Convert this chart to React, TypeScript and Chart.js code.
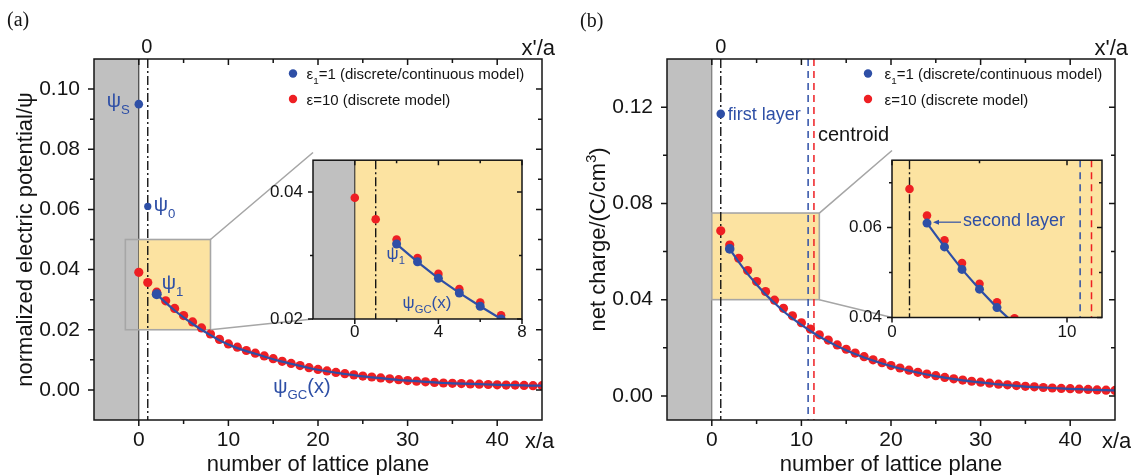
import React, { useEffect, useRef } from 'react';
import { Chart, registerables } from 'chart.js';

Chart.register(...registerables);

const FONT = '"Liberation Sans", Arial, Helvetica, sans-serif';
const SERIF = '"Liberation Serif", "Times New Roman", serif';
const BLUE = '#2E4FA6';
const RED = '#EE1F23';
const INK = '#141414';
const BAND = '#C0C0C0';
const ZOOM_FILL = '#FCE3A1';
const LINK = '#A6A6A6';

// ---------------- panel (a): normalized electric potential ----------------
const A_PLANES = [0, 1, 2, 3, 4, 5, 6, 7, 8, 9, 10, 11, 12, 13, 14, 15, 16, 17, 18, 19, 20, 21, 22, 23, 24, 25, 26, 27, 28, 29, 30, 31, 32, 33, 34, 35, 36, 37, 38, 39, 40, 41, 42, 43, 44, 45];
const A_RED = [0.0391, 0.0357, 0.0325, 0.0296, 0.0271, 0.0247, 0.0226, 0.0206, 0.0186, 0.0168, 0.0153, 0.0142, 0.0131, 0.0122, 0.0113, 0.0104, 0.0095, 0.0088, 0.0081, 0.0074, 0.0068, 0.0063, 0.0058, 0.0054, 0.0050, 0.0046, 0.0043, 0.0040, 0.0037, 0.0034, 0.0031, 0.0029, 0.0027, 0.0025, 0.0023, 0.0022, 0.0021, 0.0020, 0.0019, 0.0018, 0.0017, 0.0016, 0.0016, 0.0015, 0.0014, 0.0014];
const A_GC_PLANES = [2, 3, 4, 5, 6, 7, 8, 9, 10, 11, 12, 13, 14, 15, 16, 17, 18, 19, 20, 21, 22, 23, 24, 25, 26, 27, 28, 29, 30, 31, 32, 33, 34, 35, 36, 37, 38, 39, 40, 41, 42, 43, 44, 45];
const A_GC = [0.0318, 0.0290, 0.0264, 0.0241, 0.0220, 0.0200, 0.0182, 0.0165, 0.0151, 0.0139, 0.0129, 0.0120, 0.0111, 0.0102, 0.0094, 0.0087, 0.0080, 0.0073, 0.0067, 0.0062, 0.0057, 0.0053, 0.0049, 0.0045, 0.0042, 0.0039, 0.0036, 0.0033, 0.0031, 0.0029, 0.0027, 0.0025, 0.0023, 0.0022, 0.0021, 0.0020, 0.0019, 0.0018, 0.0017, 0.0016, 0.0016, 0.0015, 0.0014, 0.0014];
const A_MARK_PLANES = [0, 1, 2];
const A_MARKS = [0.095, 0.061, 0.0318];
const A_X_RANGE = [-5, 45];
const A_Y_RANGE = [-0.01, 0.11];
const A_X_LABELS = [0, 10, 20, 30, 40];
const A_X_MINOR = [5, 15, 25, 35];
const A_Y_LABELS = [0, 0.02, 0.04, 0.06, 0.08, 0.1];
const A_Y_MINOR = [0.01, 0.03, 0.05, 0.07, 0.09];
const A_ZOOM_X = [-1.5, 8];
const A_ZOOM_Y = [0.02, 0.05];
const A_IN_X_RANGE = [-2, 8];
const A_IN_Y_RANGE = [0.02, 0.045];
const A_IN_X_LABELS = [0, 4, 8];
const A_IN_X_MINOR = [2, 6];
const A_IN_Y_LABELS = [0.02, 0.04];
const A_IN_Y_MINOR = [0.03];

// ---------------- panel (b): net charge ----------------
const B_PLANES = [1, 2, 3, 4, 5, 6, 7, 8, 9, 10, 11, 12, 13, 14, 15, 16, 17, 18, 19, 20, 21, 22, 23, 24, 25, 26, 27, 28, 29, 30, 31, 32, 33, 34, 35, 36, 37, 38, 39, 40, 41, 42, 43, 44, 45];
const B_RED = [0.0686, 0.0627, 0.0572, 0.0521, 0.0475, 0.0434, 0.0398, 0.0364, 0.0333, 0.0304, 0.0278, 0.0254, 0.0232, 0.0212, 0.0194, 0.0178, 0.0163, 0.0150, 0.0138, 0.0126, 0.0116, 0.0107, 0.0098, 0.0091, 0.0084, 0.0077, 0.0071, 0.0066, 0.0061, 0.0057, 0.0053, 0.0049, 0.0046, 0.0043, 0.0040, 0.0038, 0.0035, 0.0033, 0.0031, 0.0030, 0.0028, 0.0027, 0.0025, 0.0024, 0.0023];
const B_GC_PLANES = [2, 3, 4, 5, 6, 7, 8, 9, 10, 11, 12, 13, 14, 15, 16, 17, 18, 19, 20, 21, 22, 23, 24, 25, 26, 27, 28, 29, 30, 31, 32, 33, 34, 35, 36, 37, 38, 39, 40, 41, 42, 43, 44, 45];
const B_GC = [0.0610, 0.0557, 0.0507, 0.0463, 0.0422, 0.0386, 0.0352, 0.0322, 0.0295, 0.0270, 0.0247, 0.0226, 0.0207, 0.0190, 0.0174, 0.0160, 0.0147, 0.0135, 0.0124, 0.0114, 0.0105, 0.0097, 0.0089, 0.0082, 0.0076, 0.0070, 0.0065, 0.0060, 0.0056, 0.0052, 0.0048, 0.0045, 0.0042, 0.0039, 0.0037, 0.0035, 0.0033, 0.0031, 0.0029, 0.0028, 0.0026, 0.0025, 0.0024, 0.0023];
const B_MARK_PLANES = [1, 2];
const B_MARKS = [0.1172, 0.0611];
const B_CENTROIDS = [10.75, 11.4]; // blue (ε1=1), red (ε=10)
const B_X_RANGE = [-5, 45];
const B_Y_RANGE = [-0.01, 0.14];
const B_X_LABELS = [0, 10, 20, 30, 40];
const B_X_MINOR = [5, 15, 25, 35];
const B_Y_LABELS = [0, 0.04, 0.08, 0.12];
const B_Y_MINOR = [0.02, 0.06, 0.1];
const B_ZOOM_X = [0, 12];
const B_ZOOM_Y = [0.04, 0.076];
const B_IN_X_RANGE = [0, 12];
const B_IN_Y_RANGE = [0.04, 0.075];
const B_IN_X_LABELS = [0, 10];
const B_IN_X_MINOR = [5];
const B_IN_Y_LABELS = [0.04, 0.06];
const B_IN_Y_MINOR = [0.05, 0.07];

const WALL = 0;
const FIRST_PLANE = 1;

// ---------------- layout (page pixels) ----------------
type Box = { left: number; top: number; width: number; height: number };
type Area = { l: number; t: number; r: number; b: number };
const A_CANVAS: Box = { left: 0, top: 0, width: 565, height: 475 };
const A_AREA: Area = { l: 94, t: 59, r: 542, b: 420 };
const A_IN_CANVAS: Box = { left: 255, top: 140, width: 275, height: 210 };
const A_IN_AREA: Area = { l: 313, t: 152.5, r: 522, b: 319 };
const B_CANVAS: Box = { left: 565, top: 0, width: 566, height: 475 };
const B_AREA: Area = { l: 667, t: 59, r: 1115, b: 420 };
const B_IN_CANVAS: Box = { left: 835, top: 140, width: 272, height: 210 };
const B_IN_AREA: Area = { l: 892, t: 150.5, r: 1102, b: 317.5 };

const pts = (xs: number[], ys: number[]) => xs.map((x, i) => ({ x, y: ys[i] }));

function linAxis(range: number[], labelled: number[], fmt: (v: number) => string, size: number, pad: number, fit: number, horizontal: boolean) {
  return {
    type: 'linear',
    min: range[0],
    max: range[1],
    grid: { display: false, drawTicks: false },
    border: { display: false },
    afterBuildTicks: (s: any) => {
      s.ticks = labelled.map((v) => ({ value: v }));
    },
    afterFit: (s: any) => {
      if (horizontal) s.height = fit;
      else s.width = fit;
    },
    ticks: {
      callback: (v: any) => fmt(Number(v)),
      font: { family: FONT, size },
      color: INK,
      padding: pad,
      maxRotation: 0,
      minRotation: 0,
      autoSkip: false,
    },
  };
}

function layoutFor(cv: Box, ar: Area) {
  return {
    padding: { left: 0, top: ar.t - cv.top, right: cv.left + cv.width - ar.r, bottom: 0 },
    yWidth: ar.l - cv.left,
    xHeight: cv.top + cv.height - ar.b,
  };
}

function txt(ctx: CanvasRenderingContext2D, s: string, x: number, y: number, size: number, color = INK, align: CanvasTextAlign = 'left', family = FONT) {
  ctx.font = `${size}px ${family}`;
  ctx.fillStyle = color;
  ctx.textAlign = align;
  ctx.textBaseline = 'alphabetic';
  ctx.fillText(s, x, y);
}

type Part = { t: string; sub?: boolean; sup?: boolean };
function richWidth(ctx: CanvasRenderingContext2D, parts: Part[], size: number) {
  let w = 0;
  for (const p of parts) {
    ctx.font = `${p.sub || p.sup ? size * 0.66 : size}px ${FONT}`;
    w += ctx.measureText(p.t).width;
  }
  return w;
}
function rich(ctx: CanvasRenderingContext2D, parts: Part[], x: number, y: number, size: number, color: string) {
  let cx = x;
  ctx.fillStyle = color;
  ctx.textAlign = 'left';
  ctx.textBaseline = 'alphabetic';
  for (const p of parts) {
    const small = p.sub || p.sup;
    ctx.font = `${small ? size * 0.66 : size}px ${FONT}`;
    const dy = p.sub ? size * 0.32 : p.sup ? -size * 0.4 : 0;
    ctx.fillText(p.t, cx, y + dy);
    cx += ctx.measureText(p.t).width;
  }
}
function vtitle(ctx: CanvasRenderingContext2D, parts: Part[], cx: number, cy: number, size: number) {
  ctx.save();
  ctx.translate(cx, cy);
  ctx.rotate(-Math.PI / 2);
  const w = richWidth(ctx, parts, size);
  rich(ctx, parts, -w / 2, size * 0.35, size, INK);
  ctx.restore();
}
function dot(ctx: CanvasRenderingContext2D, x: number, y: number, r: number, c: string) {
  ctx.beginPath();
  ctx.arc(x, y, r, 0, Math.PI * 2);
  ctx.fillStyle = c;
  ctx.fill();
}

function drawFrame(chart: any, xMaj: number[], xMin: number[], yMaj: number[], yMin: number[], maj: number, min: number) {
  const { ctx, chartArea: a, scales } = chart;
  const sx = scales.x;
  const sy = scales.y;
  ctx.save();
  ctx.strokeStyle = INK;
  ctx.lineWidth = 1.5;
  ctx.setLineDash([]);
  ctx.strokeRect(a.left, a.top, a.right - a.left, a.bottom - a.top);
  ctx.beginPath();
  const tx = (v: number, len: number) => {
    const p = sx.getPixelForValue(v);
    ctx.moveTo(p, a.bottom);
    ctx.lineTo(p, a.bottom + len);
    ctx.moveTo(p, a.top);
    ctx.lineTo(p, a.top + len);
  };
  const ty = (v: number, len: number) => {
    const p = sy.getPixelForValue(v);
    ctx.moveTo(a.left, p);
    ctx.lineTo(a.left - len, p);
    ctx.moveTo(a.right, p);
    ctx.lineTo(a.right - len, p);
  };
  xMaj.forEach((v) => tx(v, maj));
  xMin.forEach((v) => tx(v, min));
  yMaj.forEach((v) => ty(v, maj));
  yMin.forEach((v) => ty(v, min));
  ctx.stroke();
  ctx.restore();
}

function vline(chart: any, v: number, color: string, dash: number[], w: number) {
  const { ctx, chartArea: a, scales } = chart;
  const p = scales.x.getPixelForValue(v);
  ctx.save();
  ctx.strokeStyle = color;
  ctx.lineWidth = w;
  ctx.setLineDash(dash);
  ctx.beginPath();
  ctx.moveTo(p, a.top);
  ctx.lineTo(p, a.bottom);
  ctx.stroke();
  ctx.restore();
}

function band(chart: any, wallColor: string) {
  const { ctx, chartArea: a, scales } = chart;
  const p = scales.x.getPixelForValue(WALL);
  ctx.save();
  ctx.fillStyle = BAND;
  ctx.fillRect(a.left, a.top, p - a.left, a.bottom - a.top);
  ctx.strokeStyle = wallColor;
  ctx.lineWidth = 1;
  ctx.beginPath();
  ctx.moveTo(p, a.top);
  ctx.lineTo(p, a.bottom);
  ctx.stroke();
  ctx.restore();
}

function zoomBox(chart: any, xr: number[], yr: number[]) {
  const { ctx, scales } = chart;
  const sx = scales.x;
  const sy = scales.y;
  const x0 = sx.getPixelForValue(xr[0]);
  const xw = sx.getPixelForValue(Math.max(xr[0], WALL));
  const x1 = sx.getPixelForValue(xr[1]);
  const y0 = sy.getPixelForValue(yr[0]);
  const y1 = sy.getPixelForValue(yr[1]);
  ctx.save();
  ctx.fillStyle = ZOOM_FILL;
  ctx.fillRect(xw, y1, x1 - xw, y0 - y1);
  ctx.strokeStyle = LINK;
  ctx.lineWidth = 1.6;
  ctx.strokeRect(x0, y1, x1 - x0, y0 - y1);
  ctx.restore();
}

function connectors(chart: any, xr: number[], yr: number[], inset: Area, cv: Box) {
  const { ctx, scales } = chart;
  const px = scales.x.getPixelForValue(xr[1]);
  ctx.save();
  ctx.strokeStyle = LINK;
  ctx.lineWidth = 1.6;
  ctx.beginPath();
  ctx.moveTo(px, scales.y.getPixelForValue(yr[1]));
  ctx.lineTo(inset.l - cv.left, inset.t - cv.top);
  ctx.moveTo(px, scales.y.getPixelForValue(yr[0]));
  ctx.lineTo(inset.l - cv.left, inset.b - cv.top);
  ctx.stroke();
  ctx.restore();
}

function legend(ctx: CanvasRenderingContext2D, dx: number, y1: number, y2: number, gap: number) {
  dot(ctx, dx, y1, 4.2, BLUE);
  dot(ctx, dx, y2, 4.2, RED);
  rich(ctx, [{ t: 'ε' }, { t: '1', sub: true }, { t: '=1 (discrete/continuous model)' }], dx + gap, y1 + 5.5, 15, INK);
  txt(ctx, 'ε=10 (discrete model)', dx + gap, y2 + 5.5, 15, INK);
}

const DASH_DOT = [9, 3, 2, 3];

function commonOptions(cv: Box, ar: Area, xr: number[], yr: number[], xl: number[], yl: number[], yfmt: (v: number) => string, size: number, xPad: number, yPad: number) {
  const lay = layoutFor(cv, ar);
  return {
    animation: false,
    responsive: false,
    maintainAspectRatio: false,
    events: [],
    layout: { padding: lay.padding },
    plugins: { legend: { display: false }, tooltip: { enabled: false }, title: { display: false } },
    scales: {
      x: linAxis(xr, xl, (v) => String(v), size, xPad, lay.xHeight, true),
      y: linAxis(yr, yl, yfmt, size, yPad, lay.yWidth, false),
    },
  };
}

const fmt2 = (v: number) => v.toFixed(2);

// ---------------- chart configs ----------------
function mainA(): any {
  const cv = A_CANVAS;
  return {
    type: 'scatter',
    data: {
      datasets: [
        { data: pts(A_MARK_PLANES, A_MARKS), backgroundColor: BLUE, pointRadius: [4.3, 3.6, 5], pointBorderWidth: 0, showLine: false },
        { data: pts(A_GC_PLANES, A_GC), borderColor: BLUE, borderWidth: 2.2, pointRadius: 0, showLine: true, cubicInterpolationMode: 'monotone' },
        { data: pts(A_PLANES, A_RED), backgroundColor: RED, pointRadius: 4.6, pointBorderWidth: 0, showLine: false },
      ],
    },
    options: commonOptions(cv, A_AREA, A_X_RANGE, A_Y_RANGE, A_X_LABELS, A_Y_LABELS, fmt2, 21, 8, 14),
    plugins: [
      {
        id: 'decorA',
        beforeDatasetsDraw(chart: any) {
          band(chart, '#222');
          zoomBox(chart, A_ZOOM_X, A_ZOOM_Y);
          vline(chart, FIRST_PLANE, INK, DASH_DOT, 1.4);
        },
        afterDraw(chart: any) {
          const { ctx, chartArea: a, scales } = chart;
          const sx = scales.x;
          const sy = scales.y;
          drawFrame(chart, A_X_LABELS, A_X_MINOR, A_Y_LABELS, A_Y_MINOR, 6, 4);
          connectors(chart, A_ZOOM_X, A_ZOOM_Y, A_IN_AREA, cv);
          txt(ctx, '(a)', 7 - cv.left, 26, 20, INK, 'left', SERIF);
          txt(ctx, '0', sx.getPixelForValue(FIRST_PLANE) - 1, a.top - 6, 20, INK, 'center');
          txt(ctx, "x'/a", a.right + 13, a.top - 4, 22, INK, 'right');
          txt(ctx, 'x/a', a.right - 17, 448, 22, INK, 'left');
          txt(ctx, 'number of lattice plane', (a.left + a.right) / 2, 471, 22, INK, 'center');
          vtitle(ctx, [{ t: 'normalized electric potential/ψ' }], a.left - 70, (a.top + a.bottom) / 2, 22);
          legend(ctx, a.left + 199, 73.5, 99, 13.5);
          const m = (i: number) => ({ x: sx.getPixelForValue(A_MARK_PLANES[i]), y: sy.getPixelForValue(A_MARKS[i]) });
          const s = m(0);
          rich(ctx, [{ t: 'ψ' }, { t: 'S', sub: true }], s.x - 32, s.y + 3, 20, BLUE);
          const z = m(1);
          rich(ctx, [{ t: 'ψ' }, { t: '0', sub: true }], z.x + 6, z.y + 5, 20, BLUE);
          const o = m(2);
          rich(ctx, [{ t: 'ψ' }, { t: '1', sub: true }], o.x + 5, o.y - 5, 20, BLUE);
          rich(ctx, [{ t: 'ψ' }, { t: 'GC', sub: true }, { t: '(x)' }], sx.getPixelForValue(15), sy.getPixelForValue(0) + 3, 20, BLUE);
        },
      },
    ],
  };
}

function insetA(): any {
  const cv = A_IN_CANVAS;
  return {
    type: 'scatter',
    data: {
      datasets: [
        { data: pts(A_GC_PLANES, A_GC), borderColor: BLUE, backgroundColor: BLUE, borderWidth: 2.2, pointRadius: 4.5, pointBorderWidth: 0, showLine: true },
        { data: pts(A_PLANES, A_RED), backgroundColor: RED, pointRadius: 4.3, pointBorderWidth: 0, showLine: false },
      ],
    },
    options: commonOptions(cv, A_IN_AREA, A_IN_X_RANGE, A_IN_Y_RANGE, A_IN_X_LABELS, A_IN_Y_LABELS, fmt2, 17, 3, 10),
    plugins: [
      {
        id: 'decorAIn',
        beforeDatasetsDraw(chart: any) {
          const { ctx, chartArea: a } = chart;
          ctx.save();
          ctx.fillStyle = ZOOM_FILL;
          ctx.fillRect(a.left, a.top, a.right - a.left, a.bottom - a.top);
          ctx.restore();
          band(chart, '#222');
          vline(chart, FIRST_PLANE, INK, DASH_DOT, 1.4);
        },
        afterDraw(chart: any) {
          const { ctx, scales } = chart;
          const sx = scales.x;
          const sy = scales.y;
          drawFrame(chart, A_IN_X_LABELS, A_IN_X_MINOR, A_IN_Y_LABELS, A_IN_Y_MINOR, 5, 3);
          const px = sx.getPixelForValue(A_GC_PLANES[0]);
          const py = sy.getPixelForValue(A_GC[0]);
          rich(ctx, [{ t: 'ψ' }, { t: '1', sub: true }], px - 10, py + 15, 17, BLUE);
          rich(ctx, [{ t: 'ψ' }, { t: 'GC', sub: true }, { t: '(x)' }], px + 6, sy.getPixelForValue(A_IN_Y_RANGE[0]) - 11, 17, BLUE);
        },
      },
    ],
  };
}

function mainB(): any {
  const cv = B_CANVAS;
  return {
    type: 'scatter',
    data: {
      datasets: [
        { data: pts(B_MARK_PLANES, B_MARKS), backgroundColor: BLUE, pointRadius: [4.3, 4.8], pointBorderWidth: 0, showLine: false },
        { data: pts(B_GC_PLANES, B_GC), borderColor: BLUE, borderWidth: 2.2, pointRadius: 0, showLine: true, cubicInterpolationMode: 'monotone' },
        { data: pts(B_PLANES, B_RED), backgroundColor: RED, pointRadius: 4.6, pointBorderWidth: 0, showLine: false },
      ],
    },
    options: commonOptions(cv, B_AREA, B_X_RANGE, B_Y_RANGE, B_X_LABELS, B_Y_LABELS, fmt2, 21, 8, 14),
    plugins: [
      {
        id: 'decorB',
        beforeDatasetsDraw(chart: any) {
          band(chart, '#666');
          zoomBox(chart, B_ZOOM_X, B_ZOOM_Y);
          vline(chart, FIRST_PLANE, INK, DASH_DOT, 1.4);
          vline(chart, B_CENTROIDS[0], BLUE, [7, 5], 1.5);
          vline(chart, B_CENTROIDS[1], RED, [7, 5], 1.5);
        },
        afterDraw(chart: any) {
          const { ctx, chartArea: a, scales } = chart;
          const sx = scales.x;
          const sy = scales.y;
          drawFrame(chart, B_X_LABELS, B_X_MINOR, B_Y_LABELS, B_Y_MINOR, 6, 4);
          connectors(chart, B_ZOOM_X, B_ZOOM_Y, B_IN_AREA, cv);
          txt(ctx, '(b)', 580 - cv.left, 27, 20, INK, 'left', SERIF);
          txt(ctx, '0', sx.getPixelForValue(FIRST_PLANE), a.top - 6, 20, INK, 'center');
          txt(ctx, "x'/a", a.right + 13, a.top - 4, 22, INK, 'right');
          txt(ctx, 'x/a', a.right - 13, 448, 22, INK, 'left');
          txt(ctx, 'number of lattice plane', (a.left + a.right) / 2, 471, 22, INK, 'center');
          vtitle(ctx, [{ t: 'net charge/(C/cm' }, { t: '3', sup: true }, { t: ')' }], a.left - 70, (a.top + a.bottom) / 2, 22);
          legend(ctx, a.left + 201, 73.5, 99, 16.5);
          const fx = sx.getPixelForValue(B_MARK_PLANES[0]);
          const fy = sy.getPixelForValue(B_MARKS[0]);
          txt(ctx, 'first layer', fx + 7, fy + 6, 18, BLUE);
          txt(ctx, 'centroid', sx.getPixelForValue(B_CENTROIDS[1]) + 4, 141, 20, INK);
        },
      },
    ],
  };
}

function insetB(): any {
  const cv = B_IN_CANVAS;
  return {
    type: 'scatter',
    data: {
      datasets: [
        { data: pts(B_GC_PLANES, B_GC), borderColor: BLUE, backgroundColor: BLUE, borderWidth: 2.2, pointRadius: 4.5, pointBorderWidth: 0, showLine: true },
        { data: pts(B_PLANES, B_RED), backgroundColor: RED, pointRadius: 4.3, pointBorderWidth: 0, showLine: false },
      ],
    },
    options: commonOptions(cv, B_IN_AREA, B_IN_X_RANGE, B_IN_Y_RANGE, B_IN_X_LABELS, B_IN_Y_LABELS, fmt2, 17, 5, 10),
    plugins: [
      {
        id: 'decorBIn',
        beforeDatasetsDraw(chart: any) {
          const { ctx, chartArea: a } = chart;
          ctx.save();
          ctx.fillStyle = ZOOM_FILL;
          ctx.fillRect(a.left, a.top, a.right - a.left, a.bottom - a.top);
          ctx.restore();
          vline(chart, FIRST_PLANE, INK, DASH_DOT, 1.4);
          vline(chart, B_CENTROIDS[0], BLUE, [7, 5], 1.5);
          vline(chart, B_CENTROIDS[1], RED, [7, 5], 1.5);
        },
        afterDraw(chart: any) {
          const { ctx, scales } = chart;
          const sx = scales.x;
          const sy = scales.y;
          drawFrame(chart, B_IN_X_LABELS, B_IN_X_MINOR, B_IN_Y_LABELS, B_IN_Y_MINOR, 5, 3);
          const px = sx.getPixelForValue(B_MARK_PLANES[1]);
          const py = sy.getPixelForValue(B_MARKS[1]);
          txt(ctx, 'second layer', px + 36, py + 3, 18, BLUE);
          ctx.save();
          ctx.strokeStyle = BLUE;
          ctx.fillStyle = BLUE;
          ctx.lineWidth = 1.2;
          ctx.beginPath();
          ctx.moveTo(px + 34, py - 0.5);
          ctx.lineTo(px + 10, py - 0.5);
          ctx.stroke();
          ctx.beginPath();
          ctx.moveTo(px + 6, py - 0.5);
          ctx.lineTo(px + 12, py - 3);
          ctx.lineTo(px + 12, py + 2);
          ctx.closePath();
          ctx.fill();
          ctx.restore();
        },
      },
    ],
  };
}

function ChartCanvas({ box, make }: { box: Box; make: () => any }) {
  const ref = useRef<HTMLCanvasElement>(null);
  useEffect(() => {
    const chart = new Chart(ref.current as HTMLCanvasElement, make());
    return () => chart.destroy();
  }, []);
  return (
    <canvas
      ref={ref}
      width={box.width}
      height={box.height}
      style={{ position: 'absolute', left: box.left, top: box.top, width: box.width, height: box.height }}
    />
  );
}

export default function App() {
  return (
    <div style={{ position: 'absolute', left: 0, top: 0, width: 1131, height: 475, background: '#fff', overflow: 'hidden' }}>
      <ChartCanvas box={A_CANVAS} make={mainA} />
      <ChartCanvas box={B_CANVAS} make={mainB} />
      <ChartCanvas box={A_IN_CANVAS} make={insetA} />
      <ChartCanvas box={B_IN_CANVAS} make={insetB} />
    </div>
  );
}
